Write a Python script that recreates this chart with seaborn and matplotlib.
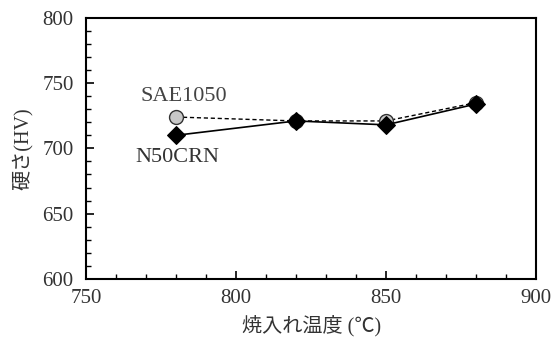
import matplotlib
matplotlib.use("Agg")
import matplotlib.pyplot as plt
import seaborn as sns
import pandas as pd
from matplotlib.ticker import MultipleLocator

temps = [780, 820, 850, 880]
sae1050 = [724, 721, 721, 735]
n50crn = [710, 721, 718, 734]
series_names = ["SAE1050", "N50CRN"]

sns.set_theme(style="ticks")
plt.rcParams['font.family'] = ['Liberation Serif', 'Noto Sans CJK JP']

df = pd.DataFrame({
    "temp": temps * 2,
    "hv": sae1050 + n50crn,
    "steel": [series_names[0]] * 4 + [series_names[1]] * 4,
})

fig = plt.figure(figsize=(5.55, 3.43), dpi=100)
ax = fig.add_axes([0.155, 0.187, 0.811, 0.761])

d1 = df[df.steel == "SAE1050"]
d2 = df[df.steel == "N50CRN"]
sns.lineplot(data=d1, x="temp", y="hv", ax=ax, color="black", linestyle=(0, (3, 2)),
             linewidth=1.0, marker="o", markersize=10, markerfacecolor="#c8c8c8",
             markeredgecolor="#333333", markeredgewidth=1.0, legend=False)
sns.lineplot(data=d2, x="temp", y="hv", ax=ax, color="black", linestyle="-",
             linewidth=1.2, marker="D", markersize=9, markerfacecolor="black",
             markeredgecolor="black", legend=False)

ax.set_xlim(750, 900)
ax.set_ylim(600, 800)
ax.xaxis.set_major_locator(MultipleLocator(50))
ax.xaxis.set_minor_locator(MultipleLocator(10))
ax.yaxis.set_major_locator(MultipleLocator(50))
ax.yaxis.set_minor_locator(MultipleLocator(10))
ax.tick_params(which="both", direction="in", top=False, right=False, colors="black")
ax.tick_params(which="major", length=6, width=1.2, labelsize=15, labelcolor="#333333")
ax.tick_params(axis="x", which="major", pad=7)
ax.tick_params(axis="y", which="major", pad=9)
ax.tick_params(which="minor", length=3.5, width=1.0)
for s in ax.spines.values():
    s.set_linewidth(1.5)
    s.set_color("black")

ax.set_xlabel("焼入れ温度 (℃)", fontsize=14.5, color="#333333", labelpad=5)
ax.set_ylabel("硬さ(HV)", fontsize=14.5, color="#333333", labelpad=7)

ax.text(782.7, 739.5, "SAE1050", fontsize=16, color="#444444", ha="center", va="center")
ax.text(780.3, 692.7, "N50CRN", fontsize=16, color="#333333", ha="center", va="center")

fig.savefig("out.png", dpi=100)
